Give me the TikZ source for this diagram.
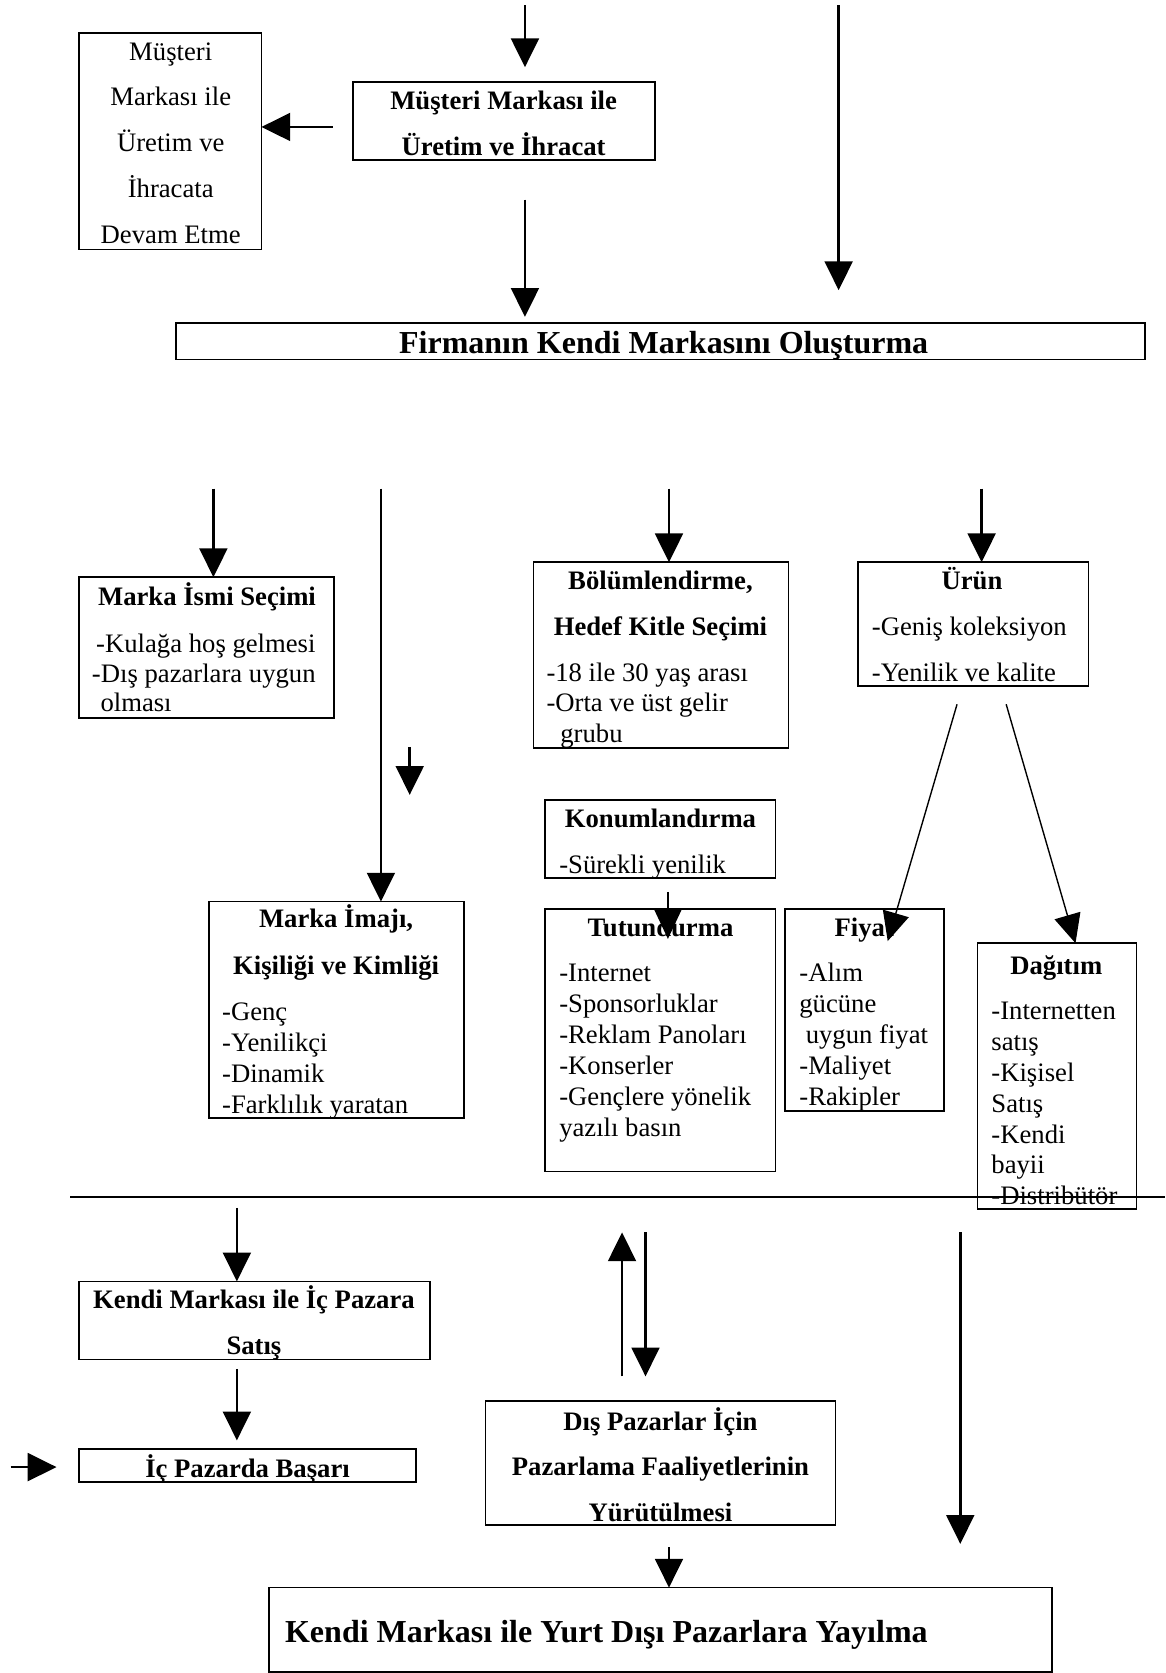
\documentclass[tikz,border=0pt]{standalone}
\usepackage{fontspec}
\setmainfont{Liberation Serif}
\usetikzlibrary{arrows.meta}
\tikzset{
 box/.style={draw, line width=1.5pt, anchor=north west, inner sep=0pt, outer sep=0pt},
 tx/.style={inner sep=0pt, yshift=-7pt, font=\fontsize{25}{29}\selectfont},
 txb/.style={inner sep=0pt, yshift=-7pt, font=\fontsize{25}{29}\selectfont\bfseries},
 txL/.style={inner sep=0pt, yshift=-8pt, font=\fontsize{30}{36}\selectfont\bfseries},
 arr/.style={line width=2.5pt, -{Triangle[length=27pt,width=26pt]}},
 thinarr/.style={line width=1.3pt, -{Triangle[length=27pt,width=25pt]}},
 rule/.style={line width=1.5pt},
}
\newcommand\bx[5]{\node[box, minimum width={#4pt-#2pt}, minimum height={#5pt-#3pt}] (#1) at (#2,#3) {};}
\newcommand\Ctxt[5][tx]{\node[#1, anchor=mid] (#2) at (#3,#4) {#5};}
\newcommand\Ltxt[5][tx]{\node[#1, anchor=mid west] (#2) at (#3,#4) {#5};}
\begin{document}
\begin{tikzpicture}[x=1pt,y=-1pt]
\fill[white] (0,0) rectangle (1092,1568);
\useasboundingbox (0,0) rectangle (1092,1568);

% ---------- top section ----------
\bx{mmL}{74}{31}{245}{234}
\Ctxt{l1}{160}{47}{Müşteri}
\Ctxt{l2}{160}{90}{Markası ile}
\Ctxt{l3}{160}{133}{Üretim ve}
\Ctxt{l4}{160}{176}{İhracata}
\Ctxt{l5}{160}{219}{Devam Etme}

\bx{mm}{331}{77}{614}{150}
\Ctxt[txb]{m1}{472}{93}{Müşteri Markası ile}
\Ctxt[txb]{m2}{472}{136}{Üretim ve İhracat}

\bx{firm}{165}{303}{1073}{337}
\Ctxt[txL]{f1}{622}{321}{Firmanın Kendi Markasını Oluşturma}

\coordinate (a1s) at (492,5);
\coordinate (a1e) at (492,63);
\draw[arr] (a1s) -- (a1e);
\coordinate (a2s) at (786,5);
\coordinate (a2e) at (786,272);
\draw[arr] (a2s) -- (a2e);
\coordinate (a3s) at (312,119);
\draw[arr] (a3s) -- (a3s -| mmL.east);
\coordinate (a4s) at (492,187);
\coordinate (a4e) at (492,297);
\draw[arr] (a4s) -- (a4e);

% ---------- middle section ----------
\bx{isim}{74}{541}{313}{673}
\Ctxt[txb]{i1}{194}{558}{Marka İsmi Seçimi}
\Ltxt{i2}{90}{602}{-Kulağa hoş gelmesi}
\Ltxt{i3}{86}{630}{-Dış pazarlara uygun}
\Ltxt{i4}{94}{658}{olması}

\bx{bol}{500}{527}{739}{701}
\Ctxt[txb]{b1}{619}{543}{Bölümlendirme,}
\Ctxt[txb]{b2}{619}{586}{Hedef Kitle Seçimi}
\Ltxt{b3}{512}{629}{-18 ile 30 yaş arası}
\Ltxt{b4}{512}{658}{-Orta ve üst gelir}
\Ltxt{b5}{525}{687}{grubu}

\bx{urun}{804}{527}{1020}{643}
\Ctxt[txb]{u1}{911}{543}{Ürün}
\Ltxt{u2}{817}{586}{-Geniş koleksiyon}
\Ltxt{u3}{817}{629}{-Yenilik ve kalite}

\bx{konum}{511}{750}{727}{823}
\Ctxt[txb]{k1}{619}{766}{Konumlandırma}
\Ltxt{k2}{524}{809}{-Sürekli yenilik}

\bx{tut}{511}{852}{727}{1098}
\Ctxt[txb]{t1}{619}{868}{Tutundurma}
\Ltxt{t2}{524}{911}{-Internet}
\Ltxt{t3}{524}{940}{-Sponsorluklar}
\Ltxt{t4}{524}{969}{-Reklam Panoları}
\Ltxt{t5}{524}{998}{-Konserler}
\Ltxt{t6}{524}{1027}{-Gençlere yönelik}
\Ltxt{t7}{524}{1056}{yazılı basın}

\bx{imaj}{196}{845}{435}{1048}
\Ctxt[txb]{g1}{315}{860}{Marka İmajı,}
\Ctxt[txb]{g2}{315}{904}{Kişiliği ve Kimliği}
\Ltxt{g3}{208}{947}{-Genç}
\Ltxt{g4}{208}{976}{-Yenilikçi}
\Ltxt{g5}{208}{1005}{-Dinamik}
\Ltxt{g6}{208}{1034}{-Farklılık yaratan}

\bx{fiyat}{736}{852}{885}{1041}
\Ctxt[txb]{p1}{810}{868}{Fiyat}
\Ltxt{p2}{749}{911}{-Alım}
\Ltxt{p3}{749}{940}{gücüne}
\Ltxt{p4}{755}{969}{uygun fiyat}
\Ltxt{p5}{749}{998}{-Maliyet}
\Ltxt{p6}{749}{1027}{-Rakipler}

\bx{dag}{916}{884}{1065}{1133}
\Ctxt[txb]{d1}{990}{904}{Dağıtım}
\Ltxt{d2}{929}{946}{-Internetten}
\Ltxt{d3}{929}{975}{satış}
\Ltxt{d4}{929}{1004}{-Kişisel}
\Ltxt{d5}{929}{1033}{Satış}
\Ltxt{d6}{929}{1062}{-Kendi}
\Ltxt{d7}{929}{1091}{bayii}
\Ltxt{d8}{929}{1120}{-Distribütör}

\coordinate (b1s) at (200,458);
\draw[arr] (b1s) -- (b1s |- isim.north);
\coordinate (b2s) at (357,458);
\draw[arr] (b2s) -- (b2s |- imaj.north);
\coordinate (b3s) at (384,700);
\coordinate (b3e) at (384,745);
\draw[arr] (b3s) -- (b3e);
\coordinate (b4s) at (627,458);
\draw[arr] (b4s) -- (b4s |- bol.north);
\coordinate (b5s) at (920,458);
\draw[arr] (b5s) -- (b5s |- urun.north);

\coordinate (d1s) at (897,660);
\coordinate (d1e) at (832,882);
\draw[thinarr] (d1s) -- (d1e);
\coordinate (d2s) at (943,660);
\coordinate (d2e) at (1008,884);
\draw[thinarr] (d2s) -- (d2e);
\coordinate (ts) at (626,836);
\coordinate (te) at (626,880);
\draw[thinarr] (ts) -- (te);

\coordinate (hl1) at (66,1122);
\coordinate (hl2) at (1092,1122);
\draw[rule] (hl1) -- (hl2);

% ---------- bottom section ----------
\bx{ic}{74}{1201}{403}{1274}
\Ctxt[txb]{c1}{238}{1217}{Kendi Markası ile İç Pazara}
\Ctxt[txb]{c2}{238}{1260}{Satış}

\bx{basari}{74}{1358}{390}{1389}
\Ctxt[txb]{s1}{232}{1375}{İç Pazarda Başarı}

\bx{dis}{455}{1313}{783}{1429}
\Ctxt[txb]{x1}{619}{1331}{Dış Pazarlar İçin}
\Ctxt[txb]{x2}{619}{1374}{Pazarlama Faaliyetlerinin}
\Ctxt[txb]{x3}{619}{1417}{Yürütülmesi}

\bx{yurt}{252}{1488}{986}{1567}
\Ltxt[txL]{y1}{267}{1529}{Kendi Markası ile Yurt Dışı Pazarlara Yayılma}

\coordinate (c1s) at (222,1132);
\draw[arr] (c1s) -- (c1s |- ic.north);
\coordinate (c2s) at (222,1283);
\coordinate (c2e) at (222,1350);
\draw[arr] (c2s) -- (c2e);
\coordinate (c3s) at (10,1375);
\coordinate (c3e) at (53,1375);
\draw[arr] (c3s) -- (c3e);
\coordinate (c4s) at (583,1290);
\coordinate (c4e) at (583,1155);
\draw[arr] (c4s) -- (c4e);
\coordinate (c5s) at (605,1155);
\coordinate (c5e) at (605,1290);
\draw[arr] (c5s) -- (c5e);
\coordinate (c6s) at (900,1155);
\coordinate (c6e) at (900,1447);
\draw[arr] (c6s) -- (c6e);
\coordinate (c7s) at (627,1450);
\draw[arr] (c7s) -- (c7s |- yurt.north);
\end{tikzpicture}
\end{document}
